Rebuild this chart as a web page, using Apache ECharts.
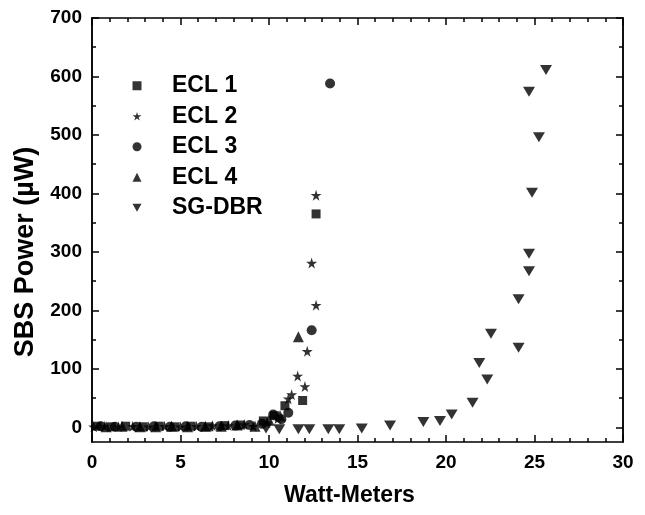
<!DOCTYPE html>
<html>
<head>
<meta charset="utf-8">
<script src="https://cdn.jsdelivr.net/npm/echarts@6/dist/echarts.min.js"></script>
<style>html,body{margin:0;padding:0;background:#fff}#c{width:645px;height:515px}</style>
</head>
<body>
<div id="c"></div>
<script>
const seriesNames = ['ECL 1', 'ECL 2', 'ECL 3', 'ECL 4', 'SG-DBR'];
const ecl1 = [[0.3,2],[1.1,1],[1.9,2],[2.9,1],[3.8,2],[4.7,1],[5.6,2],[6.6,1],[7.5,3],[8.4,4],[9.68,11],[10.3,20],[10.9,37],[11.9,46],[12.66,365]];
const ecl2 = [[0.1,1],[0.7,2],[1.5,1],[2.3,2],[3.2,1],[4.1,2],[5.0,1],[5.9,2],[6.8,3],[7.7,3],[8.6,5],[9.11,2],[9.9,8],[10.5,15],[11.09,49],[11.28,56],[11.62,88],[12.03,70],[12.16,130],[12.66,209],[12.41,281],[12.66,397]];
const ecl3 = [[0.5,2],[1.3,1],[2.5,1],[3.5,2],[4.4,1],[5.3,2],[6.2,1],[7.2,2],[8.1,3],[8.9,4],[9.6,6],[10.24,22],[10.7,14],[11.09,25],[12.41,166],[13.45,588]];
const ecl4 = [[0.8,1],[1.7,2],[2.7,1],[3.6,1],[4.5,2],[5.4,1],[6.4,2],[7.3,2],[8.2,4],[9.21,2],[10.0,12],[10.62,20],[11.66,155]];
const sgdbr = [[9.83,-2],[10.58,-3],[11.66,-3],[12.28,-3],[13.35,-3],[13.97,-3],[15.24,-2],[16.84,3],[18.72,9],[19.66,11],[20.32,22],[21.5,42],[22.33,82],[21.88,110],[24.1,136],[22.54,160],[24.1,219],[24.69,267],[24.69,297],[24.86,401],[25.25,496],[24.69,574],[25.65,611]];
const yMajor = [0,100,200,300,400,500,600,700];
const yMinor = [50,150,250,350,450,550,650];

const STAR = 'path://M50,0 L61,35 L98,35 L68,57 L79,91 L50,70 L21,91 L32,57 L2,35 L39,35 Z';
const DOWN_TRI = 'path://M0,0 L10,0 L5,8.66 Z';
const FONT = 'Liberation Sans';
const lineStyle = {color:'#000', width:1.5};

const chart = echarts.init(document.getElementById('c'));

function yAx(pos, ticks, len, labels) {
  return {
    type:'value', position:pos, min:-25, max:700,
    axisLine:{show:true, onZero:false, lineStyle},
    axisTick:{show:true, inside:true, length:len, customValues:ticks, lineStyle},
    axisLabel: labels ? {show:true, customValues:yMajor, color:'#000', fontFamily:FONT, fontWeight:'bold', fontSize:19, margin:10} : {show:false},
    splitLine:{show:false}
  };
}

const option = {
  animation:false,
  backgroundColor:'#fff',
  grid:{left:92, right:22, top:18, bottom:73, containLabel:false},
  legend:{
    orient:'vertical', left:132.5, top:74, padding:0, itemGap:7, itemWidth:9, itemHeight:9,
    data:[
      {name:'ECL 1'}, {name:'ECL 2'}, {name:'ECL 3'}, {name:'ECL 4'},
      {name:'SG-DBR', icon:DOWN_TRI}
    ],
    textStyle:{color:'#000', fontFamily:FONT, fontWeight:'bold', fontSize:23, lineHeight:23.5, padding:[0,0,0,25.5]}
  },
  xAxis:[
    {type:'value', position:'bottom', min:0, max:30, interval:5,
     name:'Watt-Meters', nameLocation:'middle', nameGap:42,
     nameTextStyle:{color:'#000', fontFamily:FONT, fontWeight:'bold', fontSize:23, padding:[0,16,0,0]},
     axisLine:{show:true, onZero:false, lineStyle},
     axisTick:{show:true, inside:true, length:7, lineStyle},
     minorTick:{show:true, splitNumber:5, length:4, lineStyle},
     axisLabel:{color:'#000', fontFamily:FONT, fontWeight:'bold', fontSize:19, margin:11},
     splitLine:{show:false}, minorSplitLine:{show:false}},
    {type:'value', position:'top', min:0, max:30, interval:5,
     axisLine:{show:true, onZero:false, lineStyle},
     axisTick:{show:true, inside:true, length:7, lineStyle},
     minorTick:{show:true, splitNumber:5, length:4, lineStyle},
     axisLabel:{show:false}, splitLine:{show:false}}
  ],
  yAxis:[
    Object.assign(yAx('left', yMajor, 7, true), {
      name:'SBS Power (\u00b5W)', nameLocation:'middle', nameGap:52,
      nameTextStyle:{color:'#000', fontFamily:FONT, fontWeight:'bold', fontSize:27, padding:[0,44,0,0]}
    }),
    yAx('left', yMinor, 4, false),
    yAx('right', yMajor, 7, false),
    yAx('right', yMinor, 4, false)
  ],
  series:[
    {name:'ECL 1', type:'scatter', data:ecl1, symbol:'rect', symbolSize:9, itemStyle:{color:'#000'}},
    {name:'ECL 2', type:'scatter', data:ecl2, symbol:STAR, symbolSize:11, itemStyle:{color:'#000'}},
    {name:'ECL 3', type:'scatter', data:ecl3, symbol:'circle', symbolSize:10, itemStyle:{color:'#000'}},
    {name:'ECL 4', type:'scatter', data:ecl4, symbol:'triangle', symbolSize:11, itemStyle:{color:'#000'}},
    {name:'SG-DBR', type:'scatter', data:sgdbr, symbol:'triangle', symbolRotate:180, symbolSize:[12,10], itemStyle:{color:'#000'}}
  ]
};
chart.setOption(option);
</script>
</body>
</html>
